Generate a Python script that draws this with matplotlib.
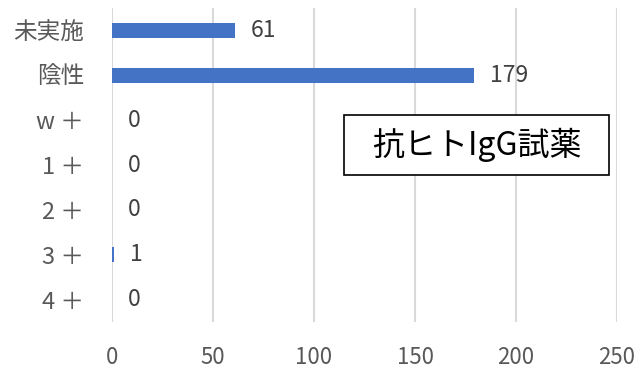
import matplotlib
matplotlib.use("Agg")
import matplotlib.pyplot as plt
from matplotlib.patches import Rectangle

plt.rcParams['font.family'] = ['Noto Sans CJK JP', 'DejaVu Sans']

categories = ["未実施", "陰性", "w ＋", "1 ＋", "2 ＋", "3 ＋", "4 ＋"]
values = [61, 179, 0, 0, 0, 1, 0]
xticks = [0, 50, 100, 150, 200, 250]

fig = plt.figure(figsize=(6.43, 3.71), dpi=100)
ax = fig.add_axes([0.1742, 0.132, 0.7854, 0.846])

ypos = list(range(len(categories)))
ax.barh(ypos, values, height=0.34, color="#4472C4", zorder=3)
for y, v in zip(ypos, values):
    ax.annotate(str(v), xy=(v, y), xytext=(16, 0), textcoords="offset pixels",
                ha="left", va="center", fontsize=16.5, color="#404040")

ax.set_xlim(0, 250)
ax.set_ylim(len(categories) - 0.5, -0.5)
ax.set_yticks(ypos)
ax.set_yticklabels(categories)
ax.set_xticks(xticks)
ax.set_xticklabels([str(t) for t in xticks])
ax.tick_params(axis="y", length=0, pad=20, labelsize=17, labelcolor="#595959")
ax.tick_params(axis="x", length=0, pad=17, labelsize=16, labelcolor="#595959")
ax.grid(axis="x", color="#D9D9D9", linewidth=1.5, zorder=0)
for s in ax.spines.values():
    s.set_visible(False)

fig.patches.append(Rectangle((0.535, 0.528), 0.412, 0.162, transform=fig.transFigure,
                             facecolor="white", edgecolor="black", linewidth=1.2, zorder=5))
fig.text(0.741, 0.609, "抗ヒトIgG試薬", ha="center", va="center", fontsize=23,
         color="black", zorder=6)

fig.savefig("out.png", dpi=100)
